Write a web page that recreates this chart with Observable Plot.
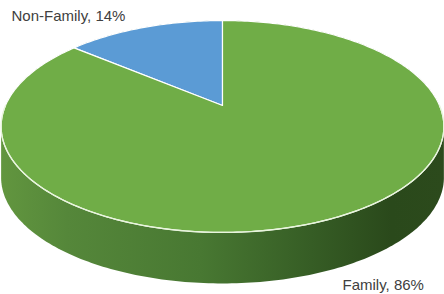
<!DOCTYPE html>
<html>
<head>
<meta charset="utf-8">
<script src="https://cdn.jsdelivr.net/npm/d3@7"></script>
<script src="https://cdn.jsdelivr.net/npm/@observablehq/plot@0.6"></script>
<style>
  html, body { margin: 0; padding: 0; background: #fff; }
  #chart { width: 444px; height: 294px; }
</style>
</head>
<body>
<div id="chart"></div>
<script>
// Data
const categories = ["Non-Family", "Family"];
const values = [14, 86];
const colors = ["#5b9bd5", "#70ad47"];

// Perspective pie geometry (pixels)
const W = 444, H = 294;
const cx = 222, cy = 105, rxB = 217, ryA = 101.8, kP = -0.198, depth = 51;

function proj(theta, dy = 0) {
  // theta = 0 at back (12 o'clock), increasing counter-clockwise
  const c = -Math.sin(theta), s = -Math.cos(theta);
  const w = 1 + kP * s;
  return [cx + rxB * c / w, cy + ryA * s / w + dy];
}

const total = d3.sum(values);
const wedges = [];
let acc = 0;
categories.forEach((cat, i) => {
  const a0 = acc / total * 2 * Math.PI;
  acc += values[i];
  const a1 = acc / total * 2 * Math.PI;
  const n = Math.max(4, Math.ceil((a1 - a0) / (Math.PI / 180)));
  wedges.push({slice: cat, x: cx, y: cy});
  for (let j = 0; j <= n; j++) {
    const [x, y] = proj(a0 + (a1 - a0) * j / n);
    wedges.push({slice: cat, x, y});
  }
  wedges.push({slice: cat, x: cx, y: cy});
});

// side silhouette (hull of top & bottom rims)
const rimPts = [];
for (let j = 0; j < 360; j++) {
  const t = j / 360 * 2 * Math.PI;
  rimPts.push(proj(t), proj(t, depth));
}
const hull = d3.polygonHull(rimPts);
const side = hull.map(([x, y]) => ({x, y}));
side.push(side[0]);

// front rim highlight
const rim = [];
for (let j = 0; j <= 180; j++) {
  const t = Math.PI / 2 + j / 180 * Math.PI;
  const [x, y] = proj(t);
  rim.push({x, y});
}

const pct = values.map(v => Math.round(v / total * 100));
const labelData = [
  {text: `${categories[0]}, ${pct[0]}%`, x: 11, y: 20.5, anchor: "start"},
  {text: `${categories[1]}, ${pct[1]}%`, x: 342, y: 289, anchor: "start"}
];

const plot = Plot.plot({
  width: W, height: H,
  margin: 0,
  x: {domain: [0, W], range: [0, W], axis: null},
  y: {domain: [0, H], range: [0, H], axis: null},
  style: {background: "#fff", overflow: "visible"},
  marks: [
    Plot.line(side, {x: "x", y: "y", fill: "url(#sideGrad)", stroke: "none", curve: "linear"}),
    Plot.line(wedges, {x: "x", y: "y", z: "slice",
      fill: d => colors[categories.indexOf(d.slice)],
      stroke: "#ffffff", strokeWidth: 1.2, strokeLinejoin: "round", curve: "linear"}),
    Plot.line(rim, {x: "x", y: "y", stroke: "#e8f5dc", strokeWidth: 1.3, curve: "linear"}),
    Plot.text(labelData, {x: "x", y: "y", text: "text", textAnchor: "start",
      lineAnchor: "bottom", fill: "#404040", fontSize: 15,
      fontFamily: "Liberation Sans, Arial, sans-serif"})
  ]
});

// gradient definition for the side of the pie
const ns = "http://www.w3.org/2000/svg";
const defs = document.createElementNS(ns, "defs");
const grad = document.createElementNS(ns, "linearGradient");
grad.setAttribute("id", "sideGrad");
grad.setAttribute("gradientUnits", "userSpaceOnUse");
grad.setAttribute("x1", "0"); grad.setAttribute("y1", "0");
grad.setAttribute("x2", String(W)); grad.setAttribute("y2", "0");
[[0, "#62963f"], [0.15, "#55873a"], [0.45, "#487832"], [0.7, "#365d25"], [0.88, "#2a491b"], [1, "#2c4a1c"]]
  .forEach(([o, c]) => {
    const st = document.createElementNS(ns, "stop");
    st.setAttribute("offset", o);
    st.setAttribute("stop-color", c);
    grad.appendChild(st);
  });
defs.appendChild(grad);
plot.insertBefore(defs, plot.firstChild);

document.getElementById("chart").appendChild(plot);
</script>
</body>
</html>
